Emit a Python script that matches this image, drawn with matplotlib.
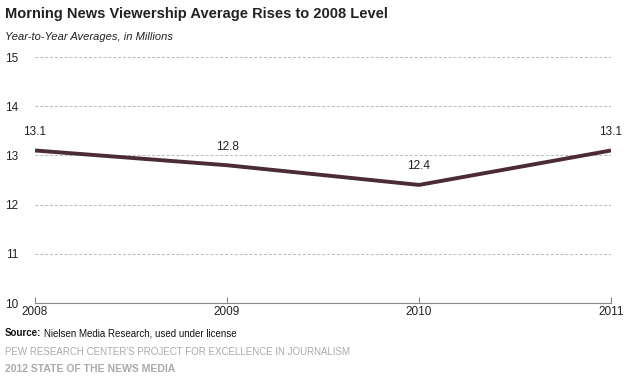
import matplotlib
matplotlib.use("Agg")
import matplotlib.pyplot as plt

plt.rcParams['font.family'] = ['Liberation Sans', 'DejaVu Sans']

years = [2008, 2009, 2010, 2011]
viewers = [13.1, 12.8, 12.4, 13.1]
labels = ["13.1", "12.8", "12.4", "13.1"]
yticks = [10, 11, 12, 13, 14, 15]

fig = plt.figure(figsize=(6.3, 3.91), dpi=100)
ax = fig.add_axes([35 / 630, 1 - 303 / 391, (611 - 35) / 630, (303 - 57) / 391])

ax.plot(years, viewers, color="#4b2c36", lw=2.8, solid_capstyle="butt", zorder=3)
for x, y, t in zip(years, viewers, labels):
    ax.annotate(t, (x, y), xytext=(0, 9), textcoords="offset points",
                ha="center", va="bottom", fontsize=8.5, color="#222222")

ax.set_xlim(2008, 2011)
ax.set_ylim(10, 15)
ax.set_xticks(years)
ax.set_yticks(yticks)
ax.grid(axis="y", color="#b8b8b8", ls=(0, (3, 2)), lw=0.7)
for s in ["top", "right", "left"]:
    ax.spines[s].set_visible(False)
ax.spines["bottom"].set_color("#888888")
ax.tick_params(axis="y", length=0, pad=12, labelsize=8.5, labelcolor="#222222")
ax.tick_params(axis="x", direction="in", length=4, color="#888888", pad=2,
               labelsize=8.5, labelcolor="#222222")

fig.text(0.008, 0.965, "Morning News Viewership Average Rises to 2008 Level",
         fontsize=10.5, fontweight="bold", color="#222222", va="center")
fig.text(0.008, 0.905, "Year-to-Year Averages, in Millions",
         fontsize=8, style="italic", color="#222222", va="center")
src = fig.text(0.008, 0.148, "Source:", fontsize=7, fontweight="bold",
               color="#111111", va="center")
fig.canvas.draw()
bb = src.get_window_extent().transformed(fig.transFigure.inverted())
fig.text(bb.x1 + 0.004, 0.148, "Nielsen Media Research, used under license",
         fontsize=7, color="#111111", va="center")
fig.text(0.008, 0.101, "PEW RESEARCH CENTER'S PROJECT FOR EXCELLENCE IN JOURNALISM",
         fontsize=7, color="#aaaaaa", va="center")
fig.text(0.008, 0.056, "2012 STATE OF THE NEWS MEDIA",
         fontsize=7.5, fontweight="bold", color="#aaaaaa", va="center")

fig.savefig("out.png", dpi=100)
